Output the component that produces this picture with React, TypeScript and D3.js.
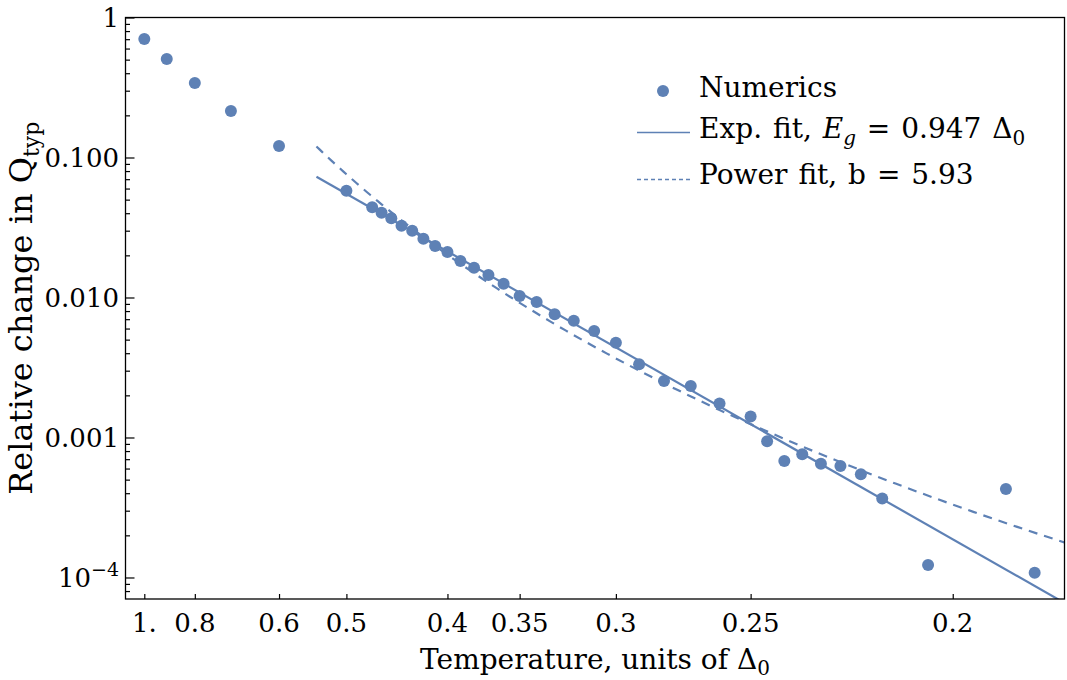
import { useEffect, useRef } from "react";
import * as d3 from "d3";

// temperatures (units of Delta_0) and relative change in Q_typ
const temps: number[] = [
  1, 0.9, 0.8, 0.7, 0.6, 0.5, 0.47, 0.46, 0.45, 0.44, 0.43, 0.42, 0.41, 0.4,
  0.39, 0.38, 0.37, 0.36, 0.35, 0.34, 0.33, 0.32, 0.31, 0.3, 0.29, 0.28, 0.27,
  0.26, 0.25, 0.245, 0.24, 0.235, 0.23, 0.225, 0.22, 0.215, 0.205, 0.19, 0.185,
];
const relChange: number[] = [
  0.702, 0.506, 0.34, 0.215, 0.121, 0.0579, 0.0441, 0.0403, 0.0368, 0.0326,
  0.03, 0.0263, 0.0233, 0.0211, 0.0182, 0.0163, 0.0145, 0.01256, 0.01025,
  0.00929, 0.00759, 0.00683, 0.00576, 0.00475, 0.00333, 0.00253, 0.00233,
  0.00175, 0.00141, 0.00094, 0.00068, 0.00076, 0.00065, 0.000626, 0.000546,
  0.000366, 0.000123, 0.000429, 0.000108,
];

// fit parameters (legend values, amplitudes estimated)
const expGap = 0.947;
const expAmp = 2.43;
const powB = 5.93;
const powAmp = 4.63;
const fitRange: number[] = [0.54, 0.18];

const xTicks: number[] = [1, 0.8, 0.6, 0.5, 0.4, 0.35, 0.3, 0.25, 0.2];
const xTickLabels: string[] = ["1.", "0.8", "0.6", "0.5", "0.4", "0.35", "0.3", "0.25", "0.2"];
const yTicks: number[] = [1, 0.1, 0.01, 0.001, 0.0001];
const yTickLabels: string[] = ["1", "0.100", "0.010", "0.001", "10^-4"];

const blue = "#5E81B5";
const font = "'DejaVu Serif', 'Liberation Serif', serif";

export default function App() {
  const svgRef = useRef<SVGSVGElement | null>(null);

  useEffect(() => {
    if (!svgRef.current) return;
    const width = 1067;
    const height = 680;
    const margin = { top: 17.5, right: 2.5, bottom: 81, left: 125.5 };

    const svg = d3.select(svgRef.current);
    svg.selectAll("*").remove();

    // x is linear in 1/T
    const xU = d3.scaleLinear()
      .domain([0.907, 5.553])
      .range([margin.left, width - margin.right]);
    const x = (t: number) => xU(1 / t);

    const y = d3.scaleLog()
      .domain([7.02e-5, 1])
      .range([height - margin.bottom, margin.top]);

    const x0 = margin.left, x1 = width - margin.right;
    const y0 = margin.top, y1 = height - margin.bottom;

    svg.append("defs").append("clipPath").attr("id", "plotClip")
      .append("rect").attr("x", x0).attr("y", y0).attr("width", x1 - x0).attr("height", y1 - y0);

    const plot = svg.append("g").attr("clip-path", "url(#plotClip)");

    // exponential fit, straight in these coordinates
    const expLine = d3.line<number>()
      .x((t) => x(t))
      .y((t) => y(expAmp * Math.exp((-2 * expGap) / t)));
    plot.append("path")
      .attr("d", expLine(fitRange))
      .attr("fill", "none").attr("stroke", blue).attr("stroke-width", 2.2);

    // power fit
    const powLine = d3.line<number>()
      .x((t) => x(t))
      .y((t) => y(powAmp * Math.pow(t, powB)));
    const powSamples = d3.range(fitRange[0], fitRange[1] - 1e-9, -0.004);
    plot.append("path")
      .attr("d", powLine(powSamples))
      .attr("fill", "none").attr("stroke", blue).attr("stroke-width", 2.2)
      .attr("stroke-dasharray", "9,7");

    plot.selectAll("circle.pt")
      .data(temps)
      .join("circle")
      .attr("class", "pt")
      .attr("cx", (t) => x(t))
      .attr("cy", (_t, i) => y(relChange[i]))
      .attr("r", 6)
      .attr("fill", blue);

    // frame
    svg.append("rect")
      .attr("x", x0).attr("y", y0).attr("width", x1 - x0).attr("height", y1 - y0)
      .attr("fill", "none").attr("stroke", "black").attr("stroke-width", 1.3);

    // x ticks
    const xAxis = d3.axisBottom(xU)
      .tickValues(xTicks.map((t) => 1 / t))
      .tickSize(-5)
      .tickFormat(() => "");
    const gx = svg.append("g").attr("transform", `translate(0,${y1})`).call(xAxis);
    gx.select(".domain").remove();

    const textG = svg.append("g").style("font-family", font);

    textG.append("g").selectAll("text")
      .data(xTicks)
      .join("text")
      .attr("x", (t) => x(t))
      .attr("y", 632)
      .attr("text-anchor", "middle")
      .attr("font-size", 26)
      .text((_t, i) => xTickLabels[i]);

    // y ticks, major and minor
    const minor: number[] = [];
    for (let e = -5; e <= 0; e++) {
      for (let m = 2; m <= 9; m++) {
        const v = m * Math.pow(10, e);
        if (v >= 7.02e-5 && v < 1) minor.push(v);
      }
    }
    const gy = svg.append("g").attr("transform", `translate(${x0},0)`);
    gy.call(d3.axisLeft(y).tickValues(yTicks).tickSize(-9).tickFormat(() => ""));
    gy.select(".domain").remove();
    const gyMinor = svg.append("g").attr("transform", `translate(${x0},0)`);
    gyMinor.call(d3.axisLeft(y).tickValues(minor).tickSize(-4.5).tickFormat(() => ""));
    gyMinor.select(".domain").remove();
    svg.selectAll(".tick line").attr("stroke-width", 1.2);

    const yLab = textG.append("g").selectAll("text")
      .data(yTicks)
      .join("text")
      .attr("x", 119)
      .attr("y", (v) => y(v) + 9.5)
      .attr("text-anchor", "end")
      .attr("font-size", 26);
    yLab.each(function (_v, i) {
      const el = d3.select(this);
      const lab = yTickLabels[i];
      if (lab.includes("^")) {
        const [base, exp] = lab.split("^");
        el.append("tspan").text(base);
        el.append("tspan").attr("dy", -11).attr("font-size", 19).text(exp.replace("-", "\u2212"));
      } else {
        el.text(lab);
      }
    });

    // axis titles
    const xt = textG.append("text")
      .attr("x", (x0 + x1) / 2)
      .attr("y", 669)
      .attr("text-anchor", "middle")
      .attr("font-size", 28);
    xt.append("tspan").text("Temperature, units of \u0394");
    xt.append("tspan").attr("dy", 6).attr("font-size", 20).text("0");

    const yt = textG.append("text")
      .attr("transform", `translate(32,${(y0 + y1) / 2}) rotate(-90)`)
      .attr("text-anchor", "middle")
      .attr("font-size", 32);
    yt.append("tspan").text("Relative change in Q");
    yt.append("tspan").attr("dy", 7).attr("font-size", 22).text("typ");

    // legend
    const lg = textG.append("g").attr("font-size", 28).attr("word-spacing", 2);
    lg.append("circle").attr("cx", 663).attr("cy", 91).attr("r", 6).attr("fill", blue);
    lg.append("text").attr("x", 699).attr("y", 97).text("Numerics");

    lg.append("line").attr("x1", 637).attr("x2", 690).attr("y1", 132.5).attr("y2", 132.5)
      .attr("stroke", blue).attr("stroke-width", 1.3);
    const t2 = lg.append("text").attr("x", 699).attr("y", 138);
    t2.append("tspan").text("Exp. fit, ");
    t2.append("tspan").attr("font-style", "italic").text("E");
    t2.append("tspan").attr("font-style", "italic").attr("font-size", 20).attr("dy", 7).text("g");
    t2.append("tspan").attr("dy", -7).text(" = 0.947 \u0394");
    t2.append("tspan").attr("font-size", 20).attr("dy", 7).text("0");

    lg.append("line").attr("x1", 637).attr("x2", 690).attr("y1", 179.5).attr("y2", 179.5)
      .attr("stroke", blue).attr("stroke-width", 1.3).attr("stroke-dasharray", "4,3");
    lg.append("text").attr("x", 699).attr("y", 184).text("Power fit, b = 5.93");
  }, []);

  return (
    <div style={{ position: "absolute", left: 0, top: 0 }}>
      <svg ref={svgRef} width={1067} height={680} style={{ display: "block", background: "white" }} />
    </div>
  );
}
